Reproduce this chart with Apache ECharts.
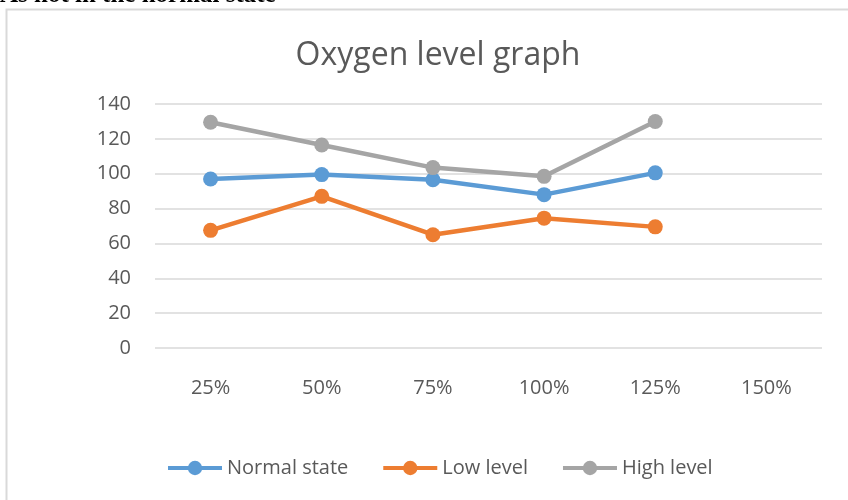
<!DOCTYPE html>
<html>
<head>
<meta charset="utf-8">
<script src="https://cdn.jsdelivr.net/npm/echarts@6/dist/echarts.min.js"></script>
<style>
html,body{margin:0;padding:0;background:#fff;}
#chart{width:848px;height:500px;}
</style>
</head>
<body>
<div id="chart"></div>
<script>
const categories = ['25%', '50%', '75%', '100%', '125%', '150%'];
const normalState = [97, 99.5, 96.5, 88, 100.5, null];
const lowLevel = [67.5, 87, 65, 74.5, 69.5, null];
const highLevel = [129.5, 116.5, 103.5, 98.5, 130, null];
const yTicks = [0, 20, 40, 60, 80, 100, 120, 140];

const FONT = '"Open Sans", "Liberation Sans", sans-serif';
const TEXT = '#595959';

function lineSeries(name, data, color) {
  return {
    name: name,
    type: 'line',
    data: data,
    symbol: 'circle',
    symbolSize: 15,
    lineStyle: { width: 4.5, color: color },
    itemStyle: { color: color },
    emphasis: { disabled: true }
  };
}

const chart = echarts.init(document.getElementById('chart'));
chart.setOption({
  animation: false,
  backgroundColor: '#fff',
  title: {
    text: 'Oxygen level graph',
    left: 433,
    textAlign: 'center',
    top: 35,
    textStyle: { fontFamily: FONT, fontSize: 32, fontWeight: 'normal', color: TEXT }
  },
  legend: {
    top: 453,
    left: 161,
    itemWidth: 54,
    itemHeight: 18,
    itemGap: 33,
    lineStyle: { width: 4 },
    textStyle: { fontFamily: FONT, fontSize: 20, color: TEXT, padding: [0, 0, 0, 0] },
    data: ['Normal state', 'Low level', 'High level']
  },
  grid: { left: 155, right: 26, top: 104, bottom: 152 },
  xAxis: {
    type: 'category',
    data: categories,
    boundaryGap: true,
    axisLine: { show: false },
    axisTick: { show: false },
    axisLabel: { fontFamily: FONT, fontSize: 20, color: TEXT, margin: 30 }
  },
  yAxis: {
    type: 'value',
    min: yTicks[0],
    max: yTicks[yTicks.length - 1],
    interval: 20,
    axisLine: { show: false },
    axisTick: { show: false },
    axisLabel: { fontFamily: FONT, fontSize: 20, color: TEXT, margin: 24 },
    splitLine: { lineStyle: { color: '#d9d9d9', width: 1.5 } }
  },
  graphic: [
    {
      type: 'polyline',
      shape: { points: [[6.5, 500], [6.5, 9.5], [848, 9.5]] },
      style: { stroke: '#d9d9d9', lineWidth: 2, fill: null },
      silent: true
    },
    {
      type: 'text',
      left: 0,
      top: -17,
      style: { text: 'As not in the normal state', font: 'bold 25px "Liberation Serif", serif', fill: '#000' },
      silent: true
    }
  ],
  series: [
    lineSeries('Normal state', normalState, '#5b9bd5'),
    lineSeries('Low level', lowLevel, '#ed7d31'),
    lineSeries('High level', highLevel, '#a5a5a5')
  ]
});
</script>
</body>
</html>
